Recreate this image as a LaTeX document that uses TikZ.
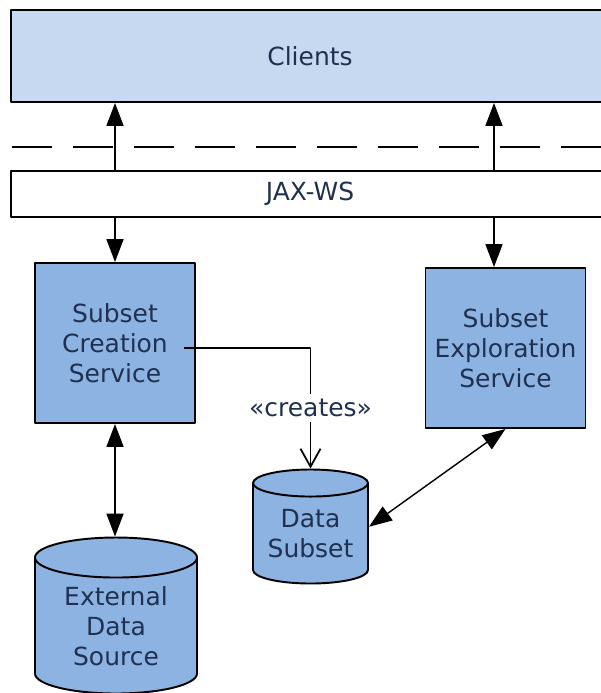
\documentclass[tikz,border=0pt]{standalone}
\usepackage{fontspec}
\setmainfont{DejaVu Sans}
\usetikzlibrary{arrows.meta,shapes.geometric}

\definecolor{clientblue}{HTML}{C6D9F1}
\definecolor{serviceblue}{HTML}{8DB3E2}
\definecolor{textnavy}{HTML}{1F3050}

\begin{document}
\begin{tikzpicture}[line join=round, line width=1pt,
	font=\fontsize{14.2}{17.1}\selectfont,
	every node/.style={text=textnavy, align=center},
	band/.style={draw, line width=1.1pt, minimum width=11.96cm, inner sep=0pt},
	service/.style={draw, fill=serviceblue, line width=1.1pt, minimum width=3.2cm, minimum height=3.2cm, inner sep=0pt},
	store/.style={draw, fill=serviceblue, cylinder, shape border rotate=90, line width=1.1pt, inner sep=0pt},
	arr/.style={-{Triangle[length=0.46cm,width=0.34cm]}},
	biarr/.style={{Triangle[length=0.46cm,width=0.34cm]}-{Triangle[length=0.46cm,width=0.34cm]}}]
	\useasboundingbox (0,0) rectangle (12.02,-13.86);
	\clip (0,0) rectangle (12.02,-13.86);
	% layers
	\node[band, fill=clientblue, minimum height=1.84cm] (clients) at (6.2,-1.12) {Clients};
	\node[band, fill=white, minimum height=0.92cm] (jaxws) at (6.2,-3.88) {JAX-WS};
	\draw[line width=1.1pt, dash pattern=on 0.8cm off 0.42cm] (0.24,-2.94) -- (12.1,-2.94);
	% services
	\node[service] (creation) at (2.3,-6.86) {Subset\\Creation\\Service};
	\node[service] (explore) at (10.11,-6.96) {Subset\\Exploration\\Service};
	% data stores
	\node[store, aspect=0.247, minimum height=3.12cm, text width=3.24cm] (ext) at (2.32,-12.52) {External\\Data\\Source};
	\node[store, aspect=0.235, minimum height=2.28cm, text width=2.3cm] (subset) at (6.21,-10.675) {Data\\Subset};
	% connectors
	\coordinate (xr) at (9.88,0);
	\draw[arr] (creation.north |- jaxws.north) -- (creation.north |- clients.south);
	\draw[arr] (creation.north |- jaxws.south) -- (creation.north);
	\draw[arr] (xr |- jaxws.north) -- (xr |- clients.south);
	\draw[arr] (xr |- jaxws.south) -- (xr |- explore.north);
	\draw[biarr] (creation.south) -- (creation.south |- ext.north);
	\draw[biarr, line width=0.8pt] ([yshift=0.14cm]subset.east) -- (explore.south);
	\draw[-{Straight Barb[length=0.36cm,width=0.4cm]}] ([xshift=-0.24cm,yshift=-0.1cm]creation.east)
		-| node[pos=0.75, fill=white, inner sep=3pt] {«creates»} (subset.north);
\end{tikzpicture}
\end{document}
